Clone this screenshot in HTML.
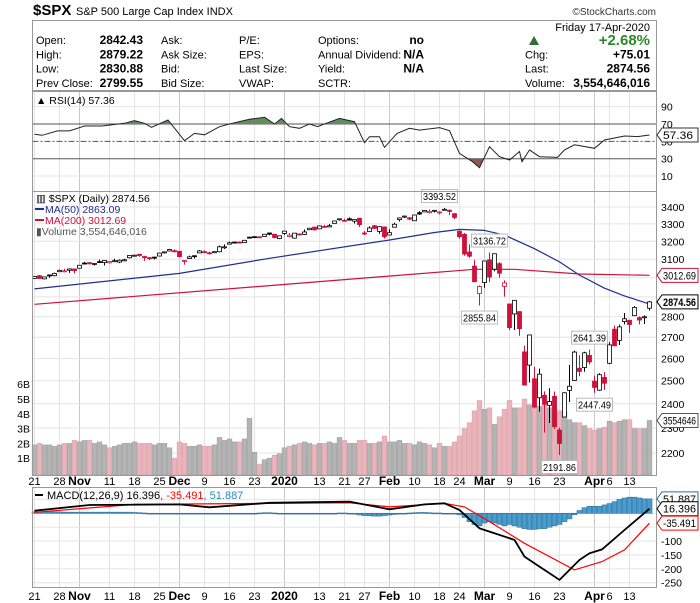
<!DOCTYPE html>
<html><head><meta charset="utf-8"><style>
body{margin:0;background:#fff;}
svg{display:block;font-family:"Liberation Sans",sans-serif;}
</style></head><body>
<svg id="c" width="700" height="603" viewBox="0 0 700 603" xmlns="http://www.w3.org/2000/svg">
<g id="hdr">
<text x="33" y="15" font-size="15" font-weight="bold">$SPX</text>
<text x="76" y="15" font-size="11">S&amp;P 500 Large Cap Index  INDX</text>
<text x="656" y="15" font-size="10" text-anchor="end" fill="#333">©StockCharts.com</text>
<rect x="32.5" y="20.5" width="624" height="70" fill="none" stroke="#999"/>
<text x="650" y="31" font-size="11" text-anchor="end">Friday  17-Apr-2020</text>
</g>
<g id="grid"></g><g id="vol"></g><g id="lines"></g><g id="candles"></g><g id="ann"></g><g id="axes"></g>
</svg>
<script>
// ---------- DATA ----------
const closes=[3006.7,2996.0,3004.5,3010.3,3022.6,3039.4,3036.9,3046.8,3037.6,
3066.9,3078.3,3074.6,3076.8,3085.2,3093.1,3087.0,3091.8,3094.0,3096.6,3120.5,3122.0,3120.2,3108.5,3103.5,3110.3,3133.6,3140.5,3153.6,3141.0,
3113.9,3093.2,3112.8,3117.4,3145.9,3136.0,3132.5,3141.6,3168.6,3168.8,3191.5,3192.5,3191.1,3205.4,3221.2,3224.0,3223.4,3239.9,3240.0,3221.3,3230.8,
3257.9,3234.9,3246.3,3237.2,3253.1,3274.7,3265.4,3288.1,3283.2,3289.3,3316.8,3329.6,3320.8,3321.8,3325.5,3295.5,3243.6,3276.2,3273.4,3283.7,3225.5,
3248.9,3297.6,3334.7,3345.8,3327.7,3352.1,3357.8,3379.5,3373.9,3380.2,3370.3,3386.2,3373.2,3337.8,3225.9,3128.2,3116.4,2978.8,2954.2,
3090.2,3003.4,3130.1,3023.9,2972.4,2746.6,2882.2,2741.4,2480.6,2711.0,2386.1,2529.2,2398.1,2409.4,2304.9,2237.4,2447.3,2475.6,2630.1,2541.5,2626.7,2584.6,
2470.5,2526.9,2488.7,2663.7,2659.4,2750.0,2789.8,2761.6,2846.1,2783.4,2799.6,2874.6];
const opens=[2996.5,3010.7,2994.0,3014.8,3010.8,3032.1,3035.4,3039.7,3046.9,
3050.7,3078.9,3080.8,3075.1,3087.0,3081.3,3080.3,3089.3,3084.2,3090.8,3107.9,3117.9,3127.5,3114.7,3108.5,3111.4,3117.4,3134.9,3145.5,3147.2,
3143.9,3087.4,3103.5,3119.2,3134.6,3141.9,3135.4,3135.8,3141.2,3166.7,3183.6,3195.2,3195.2,3192.3,3223.3,3226.1,3225.5,3227.2,3247.2,3240.1,3215.2,
3244.7,3226.4,3217.6,3241.9,3238.6,3266.0,3281.0,3271.1,3285.4,3282.3,3303.0,3323.7,3321.0,3330.0,3315.8,3333.1,3247.2,3255.4,3289.5,3256.5,3282.3,
3235.7,3280.6,3324.9,3344.9,3335.5,3318.3,3365.9,3370.5,3365.9,3378.1,3369.0,3380.4,3380.5,3360.5,3257.6,3238.9,3139.9,3062.5,2916.9,
2974.3,3096.5,3045.8,3075.7,2954.2,2863.9,2813.5,2825.6,2630.9,2570.0,2508.6,2425.7,2436.5,2393.5,2431.9,2290.7,2344.4,2457.8,2501.3,2555.9,2559.0,2614.7,
2498.1,2458.5,2514.9,2578.3,2738.7,2685.0,2776.0,2782.5,2805.1,2795.6,2799.3,2842.4];
const highs=[3008.4,3014.6,3005.1,3016.1,3027.4,3044.1,3047.9,3050.1,3046.9,
3066.9,3085.2,3083.9,3078.3,3097.8,3093.1,3088.3,3102.6,3098.1,3102.6,3120.5,3124.2,3127.6,3119.0,3110.1,3112.9,3133.8,3142.7,3154.3,3154.3,
3144.3,3095.0,3119.4,3119.4,3150.6,3148.9,3142.1,3143.0,3176.3,3182.7,3197.7,3198.2,3198.5,3205.5,3225.6,3227.8,3226.4,3240.1,3247.9,3240.9,3231.7,
3258.1,3246.2,3246.8,3244.9,3267.1,3275.6,3283.0,3288.1,3294.3,3298.7,3317.1,3329.9,3329.8,3337.8,3326.9,3333.2,3258.9,3285.8,3293.5,3285.9,3282.3,
3268.4,3306.9,3337.6,3348.0,3341.4,3352.3,3375.6,3381.5,3385.1,3380.7,3375.0,3393.5,3385.1,3360.8,3259.8,3247.0,3182.5,3097.1,2959.7,
3091.0,3136.7,3131.0,3083.0,2985.9,2863.9,2882.6,2825.6,2661.0,2711.3,2563.0,2553.9,2453.6,2467.0,2453.0,2300.7,2449.7,2571.4,2637.0,2615.9,2631.8,2641.4,
2522.8,2533.2,2538.2,2676.9,2756.9,2760.8,2818.6,2782.5,2852.8,2801.9,2806.5,2879.2];
const lows=[2995.4,2995.4,2991.7,3000.4,3008.0,3032.1,3034.0,3026.0,3023.2,
3050.7,3074.9,3072.2,3065.9,3080.2,3065.5,3075.8,3084.7,3078.8,3090.1,3104.6,3114.5,3113.5,3091.4,3094.7,3099.3,3117.4,3131.2,3143.4,3137.9,
3110.1,3070.3,3102.8,3103.8,3134.6,3135.5,3126.1,3133.2,3138.5,3156.5,3183.6,3191.0,3191.0,3192.3,3216.0,3222.3,3220.5,3227.2,3234.4,3216.6,3212.0,
3235.5,3222.3,3214.6,3232.4,3235.5,3263.7,3260.9,3268.4,3277.5,3280.7,3303.0,3318.9,3316.6,3320.0,3301.9,3281.5,3234.5,3255.4,3271.9,3242.8,3214.7,
3235.7,3280.6,3313.8,3334.4,3322.1,3317.8,3352.7,3369.7,3360.5,3367.0,3355.6,3378.8,3351.6,3328.5,3214.6,3118.8,3108.1,2977.9,2855.8,
2947.0,2976.6,3034.4,2999.8,2901.5,2734.4,2734.9,2707.2,2478.9,2492.4,2380.9,2367.0,2280.5,2319.8,2295.6,2191.9,2344.4,2407.5,2500.7,2520.0,2540.0,2573.1,
2447.5,2455.8,2460.0,2574.6,2657.7,2663.3,2762.4,2721.2,2805.1,2761.5,2764.3,2830.9];
const volumes=[1.9,2.0,1.9,1.9,1.8,1.9,2.0,2.0,2.2,
2.1,2.2,2.2,2.0,2.1,1.9,1.7,1.8,1.9,2.0,2.0,2.1,2.0,2.0,2.0,1.9,2.0,2.0,1.7,1.0,
2.1,2.0,1.8,1.8,1.9,1.8,1.8,1.9,2.4,2.2,2.3,2.1,2.1,2.3,3.7,1.4,0.6,0.9,1.0,1.2,1.3,
1.7,1.8,1.9,2.0,2.1,2.0,1.9,2.0,2.0,2.1,2.0,2.4,2.2,2.0,2.0,2.2,2.2,2.0,2.0,2.1,2.5,
2.1,2.1,2.2,2.0,2.0,1.9,2.1,2.0,1.9,1.7,2.0,1.8,1.8,2.1,2.5,3.0,3.4,4.2,4.9,
4.3,4.4,3.3,3.8,4.3,4.9,4.4,4.4,5.0,4.6,4.5,4.5,4.6,4.4,4.5,4.2,4.2,3.6,3.4,3.4,3.2,3.0,
2.9,3.0,3.1,3.5,3.4,3.5,3.6,3.6,3.0,3.0,3.0,3.55];
const ma50Idx=[0,29,47,71,80,85,90,94,100,105,109,114,118,123];
const ma50Val=[2941,3023,3105,3207,3250,3268,3262,3235,3158,3085,3014,2945,2905,2863];
const ma200Idx=[0,88,96,109,123];
const ma200Val=[2862,3045,3045,3020,3012.7];
const rsiIdx=[0,1.5,4.6,7,10,13.5,18,20,22,23.4,26.7,30,32,34,37,39,43,46,48,49.4,51,53,55,56.6,61,64,66,67,69,70,72.5,75,77,81,83,85,87.6,89,91,93,95,97,97.5,99,101,104.6,106,108,112,114,118,120.6,123];
const rsiVal=[58.1,57,62,62,67.7,67.7,70.8,73.9,70.8,66.2,74.6,50.8,59.2,57.5,66.9,70,75.4,77.7,70,76.5,66.9,65,70,67,76.5,72.7,48.5,55.4,55.4,43,59.2,65,63,65.8,62.3,36.1,26.5,19.6,43.8,32.3,28.5,38.3,26.5,40.2,32.3,31.5,40.2,46,42,51.6,56.2,55.5,57.36];
const macdIdx=[0,11,29,35,47,63,71,78,82,85,89,91,96,98,101,105,109,111,113.5,118,123];
const macdVal=[9.5,30,32,21.6,38,42,14.4,32,36,12,-54,-66,-96,-156,-192,-240,-168,-144,-130,-60,16.4];
const sigIdx=[0,20,63,71,82,86,91,98,108,113.5,118,123];
const sigVal=[3.6,32,38,23,36,23,-30,-108,-204,-174,-132,-35.5];
const histVal=[5,5,5,5,5,5,4,4,4,4,4,4,4,4,4,4,4,4,4,4,3,2,1,0,0,0,0,0,0,0,
0,0,0,-1,-2,-2,-2,-2,-1,0,0,0,0,0,0,1,2,2,1,0,0,0,0,0,0,0,0,0,0,0,
0,1,1,0,-3,-6,-8,-9,-10,-10,-8,-6,-4,-2,0,1,2,3,3,2,1,1,0,0,0,
-5,-15,-30,-40,-45,-35,-30,-35,-40,-45,-40,-45,-50,-55,-58,-58,-55,-55,-50,-45,-40,-30,-20,-5,
10,20,25,25,25,30,35,42,50,55,58,58,55,52,51.9];
const tickIdx=[0,5,9,15,20,25,29,34,39,44,50,57,62,66,71,76,81,85,90,95,100,105,112,115,119];
const tickText=["21","28","Nov","11","18","25","Dec","9","16","23","2020","13","21","27","Feb","10","18","24","Mar","9","16","23","Apr","6","13"];
const tickMajor=[0,0,1,0,0,0,1,0,0,0,1,0,0,0,1,0,0,0,1,0,0,0,1,0,0];
const priceTicks=[2200,2300,2400,2500,2600,2700,2800,2900,3000,3100,3200,3300,3400];
const rsiTicks=[10,30,50,70,90];
const macdTicks=[-250,-200,-150,-100,-50,0];
const volTicks=[1,2,3,4,5,6];
const quoteRows=[["Open:","2842.43","Ask:","P/E:","Options:","no"],["High:","2879.22","Ask Size:","EPS:","Annual Dividend:","N/A"],["Low:","2830.88","Bid:","Last Size:","Yield:","N/A"],["Prev Close:","2799.55","Bid Size:","VWAP:","SCTR:",""]];
const quoteRight=[["","+2.68%"],["Chg:","+75.01"],["Last:","2874.56"],["Volume:","3,554,646,016"]];

// ---------- AXES ----------
const L=32.5,R=656.5;
const xI=i=>34.5+i*5.0;
const yP=p=>207+565*Math.log(3400/p);
const yV=v=>473-v*14.8;
const yR=v=>124+(70-v)*0.8675;
const yM=v=>513.3-v*0.2776;
const NS="http://www.w3.org/2000/svg";
function mk(parent,tag,attrs,txt){const e=document.createElementNS(NS,tag);for(const k in attrs)e.setAttribute(k,attrs[k]);if(txt!==undefined)e.textContent=txt;document.getElementById(parent).appendChild(e);return e;}
function sparsePath(idx,val,yf){return idx.map((d,k)=>(k?'L':'M')+xI(d).toFixed(1)+','+yf(val[k]).toFixed(1)).join('');}

// quote box
quoteRows.forEach((r,k)=>{const y=44+k*14.3;
 let e;
 e=mk('hdr','text',{x:36,y:y,'font-size':11},r[0]);
 e=mk('hdr','text',{x:143,y:y,'font-size':12,'font-weight':'bold','text-anchor':'end'},r[1]);
 e=mk('hdr','text',{x:161,y:y,'font-size':11},r[2]);
 e=mk('hdr','text',{x:239,y:y,'font-size':11},r[3]);
 e=mk('hdr','text',{x:318,y:y,'font-size':11},r[4]);
 e=mk('hdr','text',{x:424,y:y,'font-size':12,'font-weight':'bold','text-anchor':'end'},r[5]);
 const q=quoteRight[k];
 e=mk('hdr','text',{x:525,y:y,'font-size':11},q[0]);
 e=mk('hdr','text',{x:650,y:y+(k==0?1:0),'font-size':k==0?15:12,'font-weight':'bold','text-anchor':'end',fill:k==0?'#2a8a2a':'#000'},q[1]);
});
let up=mk('hdr','path',{d:'M529,45L534,36L539,45Z',fill:'#2f6e2f'});


// panels
const panels=[[91,191,'rsi-panel'],[191,475,'price-panel'],[487,587,'macd-panel']];
panels.forEach(p=>{tickIdx.forEach((t,k)=>{const g=mk('grid','line',{x1:xI(t),x2:xI(t),y1:p[0],y2:p[1],stroke:tickMajor[k]?'#c8c8c8':'#e4e4e4','stroke-width':1});});});
priceTicks.forEach(p=>{const y=yP(p);if(y<192)return;
 let g=mk('grid','line',{x1:L,x2:R,y1:y,y2:y,stroke:'#e4e4e4'});
 if(p!==2900&&p!==3000){let t=mk('axes','text',{x:661,y:y+4,'font-size':10.5},String(p));}
});
volTicks.forEach(v=>{let t=mk('axes','text',{x:30,y:yV(v)+4,'font-size':10.5,'text-anchor':'end'},v+'B');});
rsiTicks.forEach(v=>{const y=yR(v);const strong=(v==70||v==30);
 let g=mk('grid','line',{x1:L,x2:R,y1:y,y2:y,stroke:strong?'#555':(v==50?'#555':'#e4e4e4'),'stroke-dasharray':v==50?'6,2,2,2':'none'});
 let t=mk('axes','text',{x:661,y:y+4,'font-size':10.5},String(v));});
macdTicks.concat([50]).forEach(v=>{const y=yM(v);
 let g=mk('grid','line',{x1:L,x2:R,y1:y,y2:y,stroke:'#e4e4e4'});
 if(v<=0&&v!=-50){let t=mk('axes','text',{x:661,y:y+4,'font-size':10.5},String(v));}});
volumes.forEach((v,i)=>{const dn=i>0&&closes[i]<closes[i-1];
 let b=mk('vol','rect',{x:xI(i)-2.4,y:yV(v),width:4.8,height:475-yV(v),fill:dn?'#eab4bb':'#b4b4b4',stroke:dn?'#d79aa3':'#999','stroke-width':0.5});
 });
let m50=mk('lines','path',{d:sparsePath(ma50Idx,ma50Val,yP),fill:'none',stroke:'#1f2f8f','stroke-width':1.2,'stroke-linejoin':'round'});

let m200=mk('lines','path',{d:sparsePath(ma200Idx,ma200Val,yP),fill:'none',stroke:'#d0103a','stroke-width':1.2});

closes.forEach((c,i)=>{const o=opens[i];const dn=i>0&&c<closes[i-1];const col=dn?'#d0103a':'#000';const x=xI(i);
 let w=mk('candles','line',{x1:x,x2:x,y1:yP(highs[i]),y2:yP(lows[i]),stroke:col,'stroke-width':1});
 
 const top=yP(Math.max(o,c)),bot=yP(Math.min(o,c));
 let b=mk('candles','rect',{x:x-2,y:top,width:4,height:Math.max(1,bot-top),fill:c>=o?'#fff':col,stroke:col,'stroke-width':0.8});
 });
let d=sparsePath(rsiIdx,rsiVal,yR);
mk('lines','clipPath',{id:'above70'});mk('above70','rect',{x:L,y:91,width:624,height:yR(70)-91});
mk('lines','clipPath',{id:'below30'});mk('below30','rect',{x:L,y:yR(30),width:624,height:191-yR(30)});
const closeP=yf=>d+'L'+xI(rsiIdx[rsiIdx.length-1])+','+yf+'L'+xI(0)+','+yf+'Z';
let f1=mk('lines','path',{d:closeP(yR(70)),fill:'#5f8f5f',stroke:'none','clip-path':'url(#above70)'});

let f2=mk('lines','path',{d:closeP(yR(30)),fill:'#8a5a50',stroke:'none','clip-path':'url(#below30)'});

let rl=mk('lines','path',{d:d,fill:'none',stroke:'#222','stroke-width':1});

histVal.forEach((h,i)=>{const y0=yM(0),y1=yM(h);
 let b=mk('lines','rect',{x:xI(i)-2.5,y:Math.min(y0,y1),width:5,height:Math.max(0.8,Math.abs(y1-y0)),fill:'#4b9ccc',stroke:'#2a6e96','stroke-width':0.6});
 });
let sl=mk('lines','path',{d:sparsePath(sigIdx,sigVal,yM),fill:'none',stroke:'#f00','stroke-width':1.2});

let ml=mk('lines','path',{d:sparsePath(macdIdx,macdVal,yM),fill:'none',stroke:'#000','stroke-width':1.8});

panels.forEach(p=>{let r=mk('axes','rect',{x:L,y:p[0]+0.5,width:R-L,height:p[1]-p[0],fill:'none',stroke:'#999'});});
[481,596].forEach(yy=>{tickIdx.forEach((t,k)=>{let e=mk('axes','text',{x:xI(t),y:yy+4,'font-size':tickMajor[k]?12:11,'font-weight':tickMajor[k]?'bold':'normal','text-anchor':'middle'},tickText[k]);});});
const annIdx=[81,91,89,111,112,105];
const annVal=[3393.52,3136.72,2855.84,2641.39,2447.49,2191.86];
const annAbove=[1,1,0,1,0,0];
annVal.forEach((v,k)=>{const x=xI(annIdx[k]);const y=yP(v)+(annAbove[k]?-12:12);const s=v.toFixed(2);
 let r=mk('ann','rect',{x:x-18,y:y-6.5,width:36,height:13,fill:'#fff',stroke:'#bbb'});
 let t=mk('ann','text',{x:x,y:y+4,'font-size':10.5,'text-anchor':'middle',textLength:33,lengthAdjust:'spacingAndGlyphs'},s);});
function tag(y,txt,col,bold,name){let p=mk('axes','path',{d:`M657,${y}L662,${y-7}L698,${y-7}L698,${y+7}L662,${y+7}Z`,fill:'#fff',stroke:col});
 let t=mk('axes','text',{x:663,y:y+4,'font-size':11,'font-weight':bold?'bold':'normal',fill:'#000',textLength:Math.min(33,txt.length*6),lengthAdjust:'spacingAndGlyphs'},txt);}
tag(yR(57.36),'57.36','#333',0,'rsi-value-tag');
tag(yP(3012.69),'3012.69','#d0103a',0,'ma200-value-tag');
tag(yP(2874.56),'2874.56','#000',1,'price-value-tag');
tag(yV(3.55),'3554646','#555',0,'volume-value-tag');
tag(yM(51.887),'51.887','#2a6e96',0,'histogram-value-tag');
tag(yM(16.396),'16.396','#000',0,'macd-value-tag');
tag(yM(-35.491),'-35.491','#f00',0,'signal-value-tag');
function leg(x,y,txt,col,name){let t=mk('axes','text',{x:x,y:y,'font-size':10.5,fill:col},txt);return t;}
leg(36,104,'▲ RSI(14) 57.36','#000','rsi-legend');
leg(36,202,'▥ $SPX (Daily) 2874.56','#000','price-legend');
let l1=mk('axes','line',{x1:35,x2:44,y1:209,y2:209,stroke:'#1f2f8f','stroke-width':2});
leg(45,213,'MA(50) 2863.09','#1f2f8f','ma50-legend');
let l2=mk('axes','line',{x1:35,x2:44,y1:220,y2:220,stroke:'#d0103a','stroke-width':2});
leg(45,224,'MA(200) 3012.69','#d0103a','ma200-legend');
leg(36,235,'▮Volume 3,554,646,016','#555','volume-legend');
let l3=mk('axes','line',{x1:35,x2:43,y1:495,y2:495,stroke:'#000','stroke-width':2});
let mt=mk('axes','text',{x:47,y:499,'font-size':11},'');
[['MACD(12,26,9) 16.396','#000'],[', -35.491','#f00'],[', 51.887','#2a8ac0']].forEach(p=>{const s=document.createElementNS(NS,'tspan');s.setAttribute('fill',p[1]);s.textContent=p[0];mt.appendChild(s);});
</script>
</body></html>
